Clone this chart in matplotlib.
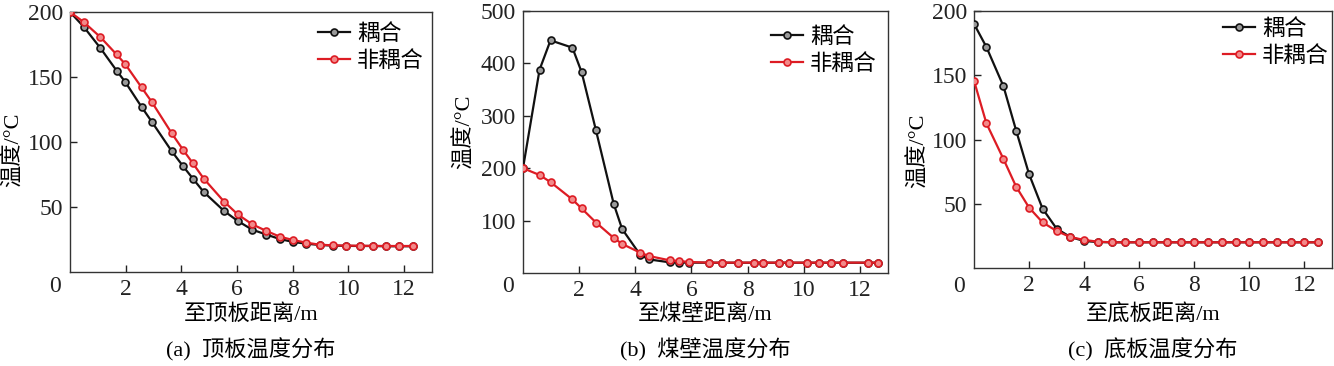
import matplotlib
matplotlib.use("Agg")
import matplotlib.pyplot as plt

plt.rcParams['font.family'] = ['Liberation Serif', 'Noto Sans CJK SC', 'DejaVu Sans']
plt.rcParams['axes.unicode_minus'] = False

# ---------------- data ----------------
series_names = ["耦合", "非耦合"]

a_x = [0, 0.49, 1.09, 1.67, 1.98, 2.57, 2.94, 3.65, 4.06, 4.41, 4.80, 5.53, 6.02,
       6.54, 7.05, 7.53, 8.01, 8.48, 8.96, 9.44, 9.92, 10.40, 10.87, 11.35, 11.83, 12.30]
a_coupled = [200, 188.7, 172.3, 155.0, 146.3, 127.0, 115.5, 93.0, 81.4, 71.9, 61.6, 47.0, 39.3,
             32.6, 28.8, 25.4, 23.1, 21.8, 20.8, 20.3, 20.1, 20.0, 20.0, 19.8, 19.8, 19.8]
a_uncoupled = [200, 192.3, 180.7, 167.4, 160.0, 142.0, 130.7, 106.8, 94.0, 83.7, 71.9, 54.2, 44.4,
               36.7, 31.6, 27.2, 24.6, 22.6, 21.0, 20.5, 20.3, 20.2, 20.1, 20.0, 20.0, 20.0]

b_x = [0, 0.59, 0.98, 1.76, 2.09, 2.60, 3.23, 3.53, 4.17, 4.48, 5.22, 5.56, 5.90,
       6.64, 7.08, 7.65, 8.21, 8.54, 9.11, 9.47, 10.11, 10.55, 10.96, 11.39, 12.30, 12.63]
b_coupled = [200, 388, 444, 430, 383, 272, 132, 84, 35, 26, 20.4, 19.8, 19.8,
             19.6, 19.6, 19.6, 19.6, 19.6, 19.6, 19.6, 19.6, 19.6, 19.6, 19.6, 19.6, 19.6]
b_uncoupled = [200, 187, 173.5, 140.3, 123.1, 96.3, 67, 55.5, 38.9, 32.5, 24.2, 23.0, 21.0,
               19.8, 19.8, 19.8, 19.8, 19.8, 19.8, 19.8, 19.8, 19.8, 19.8, 19.8, 19.8, 19.8]

c_x = [0, 0.45, 1.07, 1.53, 2.00, 2.49, 3.00, 3.50, 4.00, 4.50, 5.00, 5.50, 6.00,
       6.50, 7.00, 7.50, 8.00, 8.50, 9.00, 9.50, 10.00, 10.50, 11.00, 11.50, 12.00, 12.50]
c_coupled = [190, 172, 141.4, 107, 73, 46.2, 30.6, 24.1, 21.0, 20.2, 20.0, 20.0, 20.0,
             20.0, 20.0, 20.0, 20.0, 20.0, 20.0, 20.0, 20.0, 20.0, 20.0, 20.0, 20.0, 20.0]
c_uncoupled = [145.8, 112.6, 84.8, 63.3, 47.0, 35.5, 28.8, 24.1, 21.8, 20.5, 20.0, 20.0, 20.0,
               20.0, 20.0, 20.0, 20.0, 20.0, 20.0, 20.0, 20.0, 20.0, 20.0, 20.0, 20.0, 20.0]

x_ticks = [2, 4, 6, 8, 10, 12]
a_yticks = [50, 100, 150, 200]
b_yticks = [100, 200, 300, 400, 500]
c_yticks = [50, 100, 150, 200]

xlabels = ["至顶板距离/m", "至煤壁距离/m", "至底板距离/m"]
captions = ["(a)  顶板温度分布", "(b)  煤壁温度分布", "(c)  底板温度分布"]
ylabel = "温度/°C"

# ---------------- layout ----------------
W, H = 1334, 366
fig = plt.figure(figsize=(W / 100, H / 100), dpi=100)

# (left, right, top, bottom) in pixels
boxes = [(70, 432, 12, 272), (523, 888, 11, 273), (974, 1332, 11, 268)]
panels = [
    (a_x, a_coupled, a_uncoupled, a_yticks, 200),
    (b_x, b_coupled, b_uncoupled, b_yticks, 500),
    (c_x, c_coupled, c_uncoupled, c_yticks, 200),
]
ylabel_pos = [(13, 150), (464, 132), (918, 151)]
legend_pos = [(318, 24), (771, 27), (1223, 19)]

FS = 16
TFS = 17
BLACK = "#111111"
RED = "#dd1c24"

for i, ((l, r, t, b), (xs, yc, yu, yt, ymax)) in enumerate(zip(boxes, panels)):
    ax = fig.add_axes([l / W, 1 - b / H, (r - l) / W, (b - t) / H])
    ax.plot(xs, yc, color=BLACK, lw=1.6, marker='o', ms=5, mfc='#9a9a9a',
            mec=BLACK, mew=1.2, label=series_names[0], zorder=3)
    ax.plot(xs, yu, color=RED, lw=1.6, marker='o', ms=5, mfc='#f28a8a',
            mec=RED, mew=1.2, label=series_names[1], zorder=4)
    ax.set_xlim(0, 13)
    ax.set_ylim(0, ymax)
    ax.set_xticks(x_ticks)
    ax.set_yticks(yt)
    ax.tick_params(direction='in', length=5, width=1, labelsize=TFS, pad=5,
                   colors='#222222')
    for s in ax.spines.values():
        s.set_linewidth(1.0)
        s.set_color('#333333')
    # x label
    fig.text(((l + r) / 2) / W, 1 - 315 / H, xlabels[i], fontsize=FS,
             ha='center', va='center')
    # single origin label
    fig.text((l - 15) / W, 1 - 287 / H, "0", fontsize=TFS, ha='center', va='center',
             color='#222222')
    # y label
    fig.text(ylabel_pos[i][0] / W, 1 - ylabel_pos[i][1] / H, ylabel, fontsize=FS,
             rotation=90, ha='center', va='center')
    # caption
    fig.text(((l + r) / 2) / W, 1 - 350 / H, captions[i], fontsize=FS,
             ha='center', va='center')
    lx, ly = legend_pos[i]
    ax.legend(loc='upper left', bbox_to_anchor=((lx - l) / (r - l), 1 - (ly - t) / (b - t)),
              frameon=False, fontsize=FS, handlelength=1.45, handletextpad=0.3,
              borderpad=0, borderaxespad=0, labelspacing=0.28)

fig.savefig("out.png", dpi=100)
